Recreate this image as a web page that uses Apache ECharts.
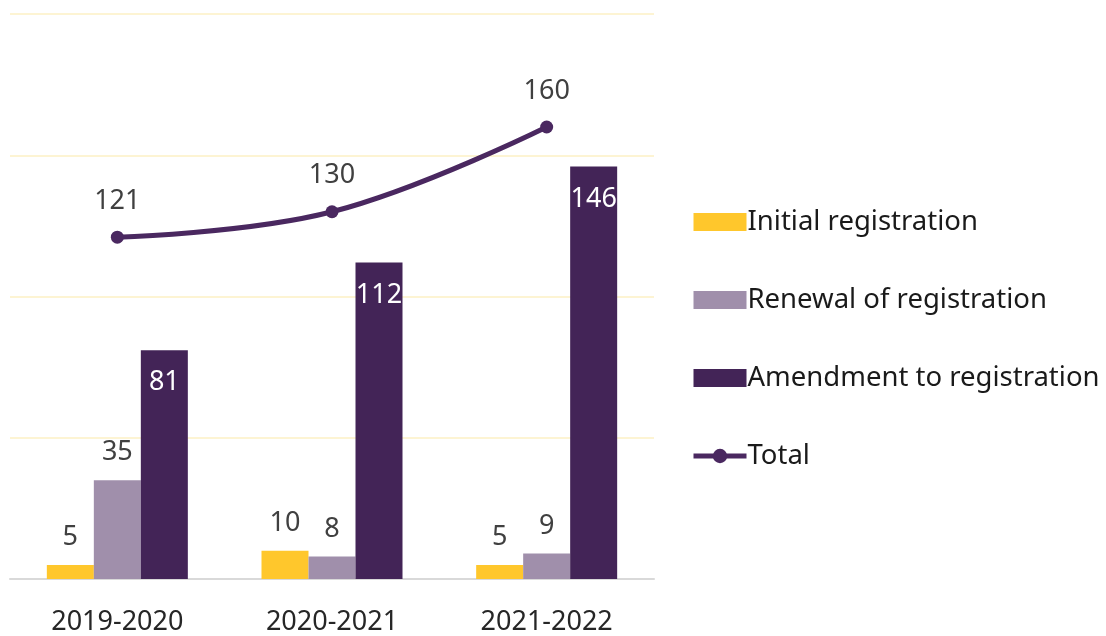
<!DOCTYPE html>
<html>
<head>
<meta charset="utf-8">
<style>
  html, body { margin: 0; padding: 0; background: #ffffff; }
  #chart { width: 1106px; height: 636px; }
</style>
<script src="https://cdn.jsdelivr.net/npm/echarts@6/dist/echarts.min.js"></script>
</head>
<body>
<div id="chart"></div>
<script>
// Registration applications by financial year
const categories = ['2019-2020', '2020-2021', '2021-2022'];
const initialRegistration = [5, 10, 5];
const renewalOfRegistration = [35, 8, 9];
const amendmentToRegistration = [81, 112, 146];
const totals = [121, 130, 160];

const FONT = '"Noto Sans", "Open Sans", sans-serif';
const labelColor = '#404040';
const lineColor = '#4a2860';

const chart = echarts.init(document.getElementById('chart'));
chart.setOption({
  animation: false,
  textStyle: { fontFamily: FONT },
  grid: { left: 10, right: 452, top: 14, bottom: 57, containLabel: false },
  legend: {
    orient: 'vertical',
    left: 686,
    top: 201,
    itemWidth: 53,
    itemHeight: 18,
    itemGap: 46,
    textStyle: { fontSize: 27.5, color: '#1a1a1a', fontFamily: FONT, lineHeight: 32, padding: [0, 0, 0, -4] },
    data: [
      { name: 'Initial registration', icon: 'rect' },
      { name: 'Renewal of registration', icon: 'rect' },
      { name: 'Amendment to registration', icon: 'rect' },
      { name: 'Total', lineStyle: { width: 5 } }
    ]
  },
  xAxis: {
    type: 'category',
    data: categories,
    axisLine: { lineStyle: { color: '#d9d9d9', width: 2 } },
    axisTick: { show: false },
    axisLabel: { fontSize: 27, color: '#262626', margin: 30, fontFamily: FONT }
  },
  yAxis: {
    type: 'value',
    min: 0,
    max: 200,
    interval: 50,
    axisLabel: { show: false },
    axisLine: { show: false },
    axisTick: { show: false },
    splitLine: { lineStyle: { color: '#fcf0c4', width: 1.5 } }
  },
  series: [
    {
      name: 'Initial registration',
      type: 'bar',
      data: initialRegistration,
      barWidth: 47,
      barGap: '0%',
      itemStyle: { color: '#ffc72c' },
      label: { show: true, position: 'top', distance: 14, fontSize: 27, color: labelColor }
    },
    {
      name: 'Renewal of registration',
      type: 'bar',
      data: renewalOfRegistration,
      barWidth: 47,
      barGap: '0%',
      itemStyle: { color: '#a08fab' },
      label: { show: true, position: 'top', distance: 14, fontSize: 27, color: labelColor }
    },
    {
      name: 'Amendment to registration',
      type: 'bar',
      data: amendmentToRegistration,
      barWidth: 47,
      barGap: '0%',
      itemStyle: { color: '#432457' },
      label: { show: true, position: 'insideTop', distance: 19, fontSize: 27, color: '#ffffff' }
    },
    {
      name: 'Total',
      type: 'line',
      data: totals,
      smooth: 0.4,
      symbol: 'circle',
      symbolSize: 13,
      lineStyle: { color: lineColor, width: 5 },
      itemStyle: { color: lineColor },
      label: { show: true, position: 'top', distance: 16, fontSize: 27, color: labelColor },
      z: 5
    }
  ]
});
</script>
</body>
</html>
